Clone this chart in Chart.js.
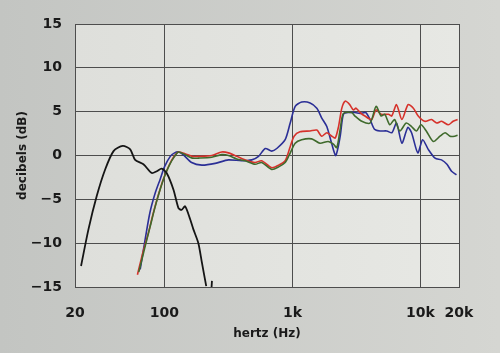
<!DOCTYPE html>
<html>
<head>
<meta charset="utf-8">
<script src="https://cdn.jsdelivr.net/npm/chart.js@4"></script>
<style>
  body { margin: 0; background: #cfd0cc; }
  canvas { display: block; }
</style>
</head>
<body>
<canvas id="responseChart" width="500" height="353"></canvas>
<script>
// tick positions on the frequency axis
const freqTicks = [20, 100, 1000, 10000, 20000];
const freqLabels = ['20', '100', '1k', '10k', '20k'];

// black curve (woofer / port), plus the little stub near 230 Hz
const blackHz = [22.3, 25.5, 29.6, 34.4, 40, 47.2, 54, 59, 68.5, 79.6, 87, 95, 104, 117.6, 128.6, 136, 145, 159, 168, 184, 196, 212, 222, 232, 235];
const blackDb = [-12.6, -8.4, -4.6, -1.6, 0.5, 1.1, 0.7, -0.5, -1.0, -2.0, -1.8, -1.5, -2.0, -3.9, -6.0, -6.2, -5.8, -7.3, -8.4, -10, -12.2, -14.9, null, -15.6, -14.3];

const redHz = [61.5, 68, 75, 82, 90, 98, 108, 117.6, 128.6, 145, 165, 184, 234, 280, 316, 367, 427, 510, 575, 688, 780, 877, 960, 1030, 1145, 1373, 1550, 1690, 1855, 2030, 2160, 2290, 2430, 2580, 2800, 2990, 3140, 3380, 3680, 4150, 4500, 4930, 5620, 5960, 6500, 7160, 8000, 8800, 9600, 10800, 12200, 13400, 14600, 16500, 18000, 19500];
const redDb = [-13.6, -11, -8.8, -6.5, -4.4, -2.7, -1.2, -0.2, 0.4, 0.2, -0.1, -0.1, 0, 0.4, 0.3, -0.1, -0.5, -0.8, -0.6, -1.4, -1.1, -0.6, 1.0, 2.2, 2.7, 2.8, 2.9, 2.2, 2.6, 2.2, 2.0, 3.3, 5.4, 6.2, 5.8, 5.2, 5.4, 4.9, 4.5, 4.1, 5.2, 4.7, 4.7, 4.5, 5.8, 4.1, 5.8, 5.4, 4.5, 3.9, 4.1, 3.7, 3.9, 3.5, 3.9, 4.1];

const greenHz = [63, 70, 77, 84, 92, 100, 110, 120, 128.6, 145, 165, 184, 234, 280, 316, 367, 427, 510, 575, 688, 780, 877, 940, 1050, 1180, 1410, 1640, 1900, 2090, 2220, 2360, 2500, 2900, 3080, 3480, 4040, 4500, 4930, 5260, 5760, 6270, 6900, 7740, 8520, 9300, 10100, 11100, 12600, 14200, 15600, 17000, 18500, 19500];
const greenDb = [-13.3, -10.6, -8.2, -6.0, -4.0, -2.4, -1.0, -0.1, 0.4, 0.1, -0.3, -0.3, -0.2, 0.1, 0.0, -0.4, -0.6, -1.0, -0.8, -1.6, -1.3, -0.8, 0.0, 1.4, 1.8, 1.9, 1.4, 1.6, 1.3, 0.9, 3.0, 4.8, 4.9, 4.5, 3.9, 3.7, 5.6, 4.5, 4.7, 3.5, 4.1, 2.8, 3.7, 3.3, 2.8, 3.5, 2.8, 1.6, 2.2, 2.6, 2.2, 2.2, 2.3];

const blueHz = [64.6, 70.6, 77, 85, 92.6, 100, 111, 120, 128.6, 140, 163, 196, 249, 316, 400, 481, 543, 613, 688, 754, 877, 960, 1050, 1180, 1373, 1550, 1690, 1855, 2030, 2180, 2360, 2500, 2730, 3080, 3380, 3730, 4040, 4370, 4830, 5460, 5990, 6500, 7160, 7960, 8520, 9530, 10400, 11500, 13000, 14600, 16100, 17500, 19100];
const blueDb = [-13.0, -9.6, -6.5, -4.2, -2.7, -1.3, -0.1, 0.3, 0.4, 0.1, -0.8, -1.1, -0.9, -0.5, -0.6, -0.5, -0.1, 0.8, 0.5, 0.8, 1.8, 3.7, 5.6, 6.1, 6.0, 5.4, 4.3, 3.3, 1.3, 0.0, 2.2, 4.7, 4.9, 4.9, 4.8, 4.9, 4.1, 3.0, 2.8, 2.8, 2.6, 3.7, 1.4, 3.2, 2.6, 0.3, 1.8, 0.7, -0.3, -0.5, -1.0, -1.8, -2.2];

const toPoints = (hz, db) => hz.map((f, i) => ({ x: f, y: db[i] }));

const lineStyle = (color, width) => ({
    borderColor: color,
    backgroundColor: color,
    borderWidth: width,
    pointRadius: 0,
    showLine: true,
    tension: 0.25,
    spanGaps: false
});

// paper background, lighter inside the plot frame
const paper = {
    id: 'paper',
    beforeDraw(chart) {
        const { ctx, chartArea: a, width, height } = chart;
        ctx.save();
        let g = ctx.createLinearGradient(0, 0, width, 0);
        g.addColorStop(0, '#c3c5c2');
        g.addColorStop(1, '#d5d6d2');
        ctx.fillStyle = g;
        ctx.fillRect(0, 0, width, height);
        g = ctx.createLinearGradient(a.left, 0, a.right, 0);
        g.addColorStop(0, '#dedfdb');
        g.addColorStop(1, '#e7e8e4');
        ctx.fillStyle = g;
        ctx.fillRect(a.left, a.top, a.right - a.left, a.bottom - a.top);
        ctx.restore();
    }
};

const tickFont = { family: 'DejaVu Sans', size: 14, weight: 'bold' };
const titleFont = { family: 'DejaVu Sans', size: 12, weight: 'bold' };

new Chart(document.getElementById('responseChart'), {
    type: 'scatter',
    data: {
        datasets: [
            { label: 'black', data: toPoints(blackHz, blackDb), ...lineStyle('#151515', 1.8) },
            { label: 'green', data: toPoints(greenHz, greenDb), ...lineStyle('#3f6a2c', 1.6) },
            { label: 'red', data: toPoints(redHz, redDb), ...lineStyle('#d6322b', 1.6) },
            { label: 'blue', data: toPoints(blueHz, blueDb), ...lineStyle('#2b2f96', 1.6) }
        ]
    },
    options: {
        responsive: false,
        animation: false,
        layout: { padding: { top: 24, right: 41, left: 0, bottom: 0 } },
        scales: {
            x: {
                type: 'logarithmic',
                min: 20,
                max: 20000,
                afterBuildTicks: s => { s.ticks = freqTicks.map(v => ({ value: v })); },
                afterFit: s => { s.height = 66; },
                grid: { color: '#4d4d4d', lineWidth: 1, drawTicks: false },
                border: { color: '#4d4d4d', width: 1 },
                ticks: {
                    color: '#1a1a1a',
                    font: tickFont,
                    padding: 18,
                    maxRotation: 0,
                    autoSkip: false,
                    callback: v => freqLabels[freqTicks.indexOf(v)]
                },
                title: {
                    display: true,
                    text: 'hertz (Hz)',
                    color: '#1a1a1a',
                    font: titleFont,
                    padding: { top: 0, bottom: 12 }
                }
            },
            y: {
                min: -15,
                max: 15,
                afterFit: s => { s.width = 75; },
                grid: { color: '#4d4d4d', lineWidth: 1, drawTicks: false },
                border: { color: '#4d4d4d', width: 1 },
                ticks: {
                    stepSize: 5,
                    color: '#1a1a1a',
                    font: tickFont,
                    padding: 13,
                    callback: v => String(v).replace('-', '\u2212')
                },
                title: {
                    display: true,
                    text: 'decibels (dB)',
                    color: '#1a1a1a',
                    font: titleFont,
                    padding: { top: 16, bottom: 0 }
                }
            }
        },
        plugins: {
            legend: { display: false },
            tooltip: { enabled: false }
        }
    },
    plugins: [paper]
});
</script>
</body>
</html>
